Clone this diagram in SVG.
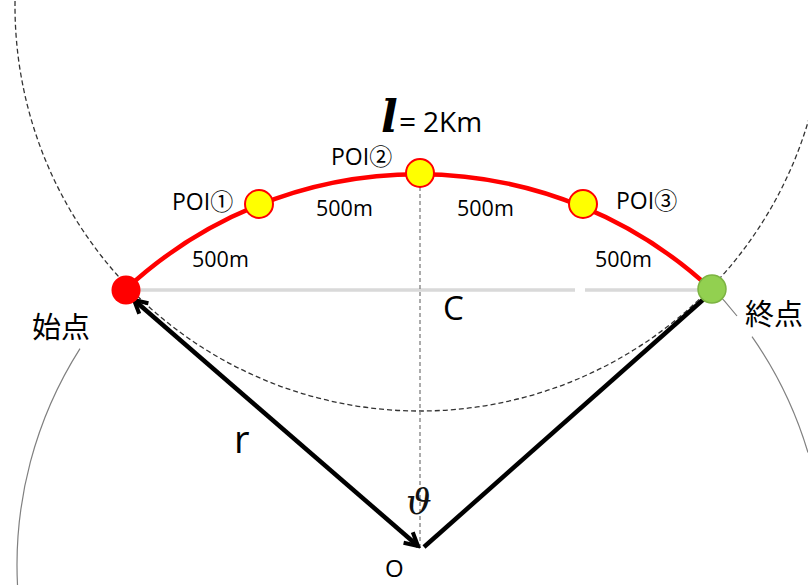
<svg xmlns="http://www.w3.org/2000/svg" width="808" height="585" viewBox="0 0 808 585">
<style>
.lbl{font-family:"Open Sans","Noto Sans CJK JP",sans-serif;fill:#000}
.cjk{font-family:"Noto Sans CJK JP",sans-serif;fill:#000}
.dist{font-family:"Open Sans",sans-serif;font-size:21.5px;fill:#000}
.poi{fill:#ffff00;stroke:#ff0000;stroke-width:2}
.arm{stroke:#000;stroke-width:4.5;fill:none}
</style>
<defs>
<marker id="chev" viewBox="0 0 20 20" refX="17" refY="10" markerWidth="20" markerHeight="20" markerUnits="userSpaceOnUse" orient="auto-start-reverse">
<path d="M4,3 L17,10 L4,17" fill="none" stroke="#000" stroke-width="4" stroke-linejoin="miter"/>
</marker>
</defs>
<rect width="808" height="585" fill="#fff"/>
<g id="guides">
<circle cx="420" cy="6" r="405" fill="none" stroke="#333" stroke-width="1.3" stroke-dasharray="5,3"/>
<path d="M80,348.6 A403,403 0 0 0 17.5,585" fill="none" stroke="#808080" stroke-width="1.2"/>
<path d="M712,287.3 A403,403 0 0 1 737,316" fill="none" stroke="#808080" stroke-width="1.2"/>
<path d="M752,336.6 A403,403 0 0 1 808,452.6" fill="none" stroke="#808080" stroke-width="1.2"/>
<line x1="125" y1="290" x2="575" y2="290" stroke="#d9d9d9" stroke-width="3.5"/>
<line x1="585" y1="290" x2="712" y2="290" stroke="#d9d9d9" stroke-width="3.5"/>
<line x1="420" y1="187" x2="420" y2="547" stroke="#7f7f7f" stroke-width="1.3" stroke-dasharray="4,3"/>
</g>
<g id="connectors">
<path id="route" d="M125,290 A430,430 0 0 1 712,290" fill="none" stroke="#ff0000" stroke-width="4.5"/>
<line id="radius-start" class="arm" x1="134" y1="300" x2="418" y2="546" marker-start="url(#chev)" marker-end="url(#chev)"/>
<line id="radius-end" class="arm" x1="424" y1="547" x2="705" y2="298"/>
</g>
<g id="start">
<circle cx="126" cy="290" r="14.5" fill="#ff0000"/>
<text class="cjk" x="32" y="338" font-size="29">始点</text>
</g>
<g id="end">
<circle cx="712" cy="289" r="14" fill="#92d050" stroke="#7cb342" stroke-width="1.5"/>
<text class="cjk" x="745" y="325" font-size="29">終点</text>
</g>
<g id="poi1">
<circle class="poi" cx="259" cy="204" r="14"/>
<text class="lbl" x="172" y="210" font-size="23">POI①</text>
</g>
<g id="poi2">
<circle class="poi" cx="420" cy="173" r="14"/>
<text class="lbl" x="331" y="165" font-size="23">POI②</text>
</g>
<g id="poi3">
<circle class="poi" cx="583" cy="204" r="14"/>
<text class="lbl" x="616" y="209" font-size="23">POI③</text>
</g>
<g id="labels">
<text x="381" y="132"><tspan font-family="DejaVu Serif,serif" font-style="italic" font-weight="bold" font-size="44">l</tspan><tspan class="lbl" x="399" font-size="30">=</tspan><tspan class="lbl" x="423" font-size="28">2Km</tspan></text>
<text class="dist" x="192" y="267">500m</text>
<text class="dist" x="316" y="216">500m</text>
<text class="dist" x="457" y="216">500m</text>
<text class="dist" x="595" y="267">500m</text>
<text class="lbl" x="443" y="320" font-size="33">C</text>
<text class="lbl" x="234" y="453" font-size="38" fill="#111">r</text>
<text x="406" y="514" font-family="DejaVu Serif,serif" font-style="italic" font-size="36" fill="#111">ϑ</text>
</g>
<g id="origin">
<text class="lbl" x="385" y="577" font-size="24">O</text>
</g>
</svg>
